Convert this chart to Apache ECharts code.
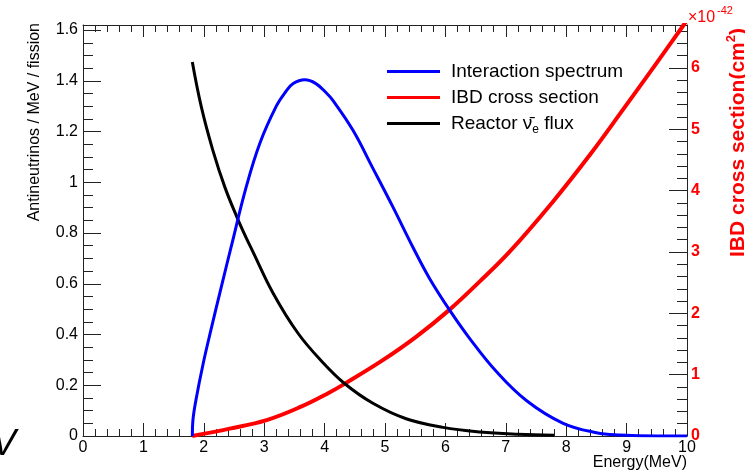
<!DOCTYPE html>
<html>
<head>
<meta charset="utf-8">
<script src="https://cdn.jsdelivr.net/npm/echarts@6/dist/echarts.min.js"></script>
<style>
html, body { margin: 0; padding: 0; background: #fff; }
#chart { width: 745px; height: 472px; }
</style>
</head>
<body>
<div id="chart"></div>
<script>
// values, energy in MeV
const spectrumE = [1.81, 1.82, 1.87, 1.99, 2.13, 2.29, 2.46, 2.70, 2.93, 3.20, 3.35, 3.48, 3.67, 3.85, 4.03, 4.14, 4.47, 4.80, 5.13, 5.46, 5.74, 6.07, 6.40, 6.84, 7.34, 7.95, 8.50, 8.89, 9.50, 10.0]
const spectrumV = [0, 0.063, 0.142, 0.286, 0.43, 0.588, 0.752, 0.98, 1.155, 1.30, 1.355, 1.389, 1.404, 1.39, 1.352, 1.322, 1.205, 1.055, 0.903, 0.745, 0.62, 0.496, 0.385, 0.255, 0.14, 0.05, 0.013, 0.004, 0, 0]

// IBD cross section, units of 1e-42 cm^2
const xsecE = [1.81, 2.43, 3.04, 3.59, 4.08, 4.33, 4.97, 5.52, 6.07, 6.57, 7.06, 7.78, 8.39, 8.94, 9.49, 9.93, 10.0]
const xsecV = [0, 0.12, 0.26, 0.47, 0.71, 0.85, 1.24, 1.62, 2.06, 2.52, 3.0, 3.82, 4.58, 5.32, 6.07, 6.68, 6.78]

const fluxE = [1.81, 1.96, 2.15, 2.35, 2.55, 2.70, 2.80, 3.15, 3.56, 3.97, 4.33, 4.80, 5.35, 5.96, 6.57, 7.20, 7.80]
const fluxV = [1.474, 1.296, 1.126, 0.98, 0.862, 0.782, 0.733, 0.562, 0.405, 0.29, 0.207, 0.129, 0.068, 0.034, 0.016, 0.007, 0.003]

const seriesNames = ['Interaction spectrum', 'IBD cross section', 'Reactor \u03bd\u0304e flux']
const seriesColors = ['#0000ff', '#ff0000', '#000000']

const FONT = '"Liberation Sans", Arial, Helvetica, sans-serif'
const AXIS_COLOR = '#222'

const pairs = (xs, ys) => xs.map((x, i) => [x, ys[i]])

const tickStyle = { color: AXIS_COLOR, width: 1 }

const chart = echarts.init(document.getElementById('chart'), null, { renderer: 'canvas' })

chart.setOption({
  animation: false,
  backgroundColor: '#fff',
  grid: { left: 83, right: 58, top: 25, bottom: 36, containLabel: false, outerBoundsMode: 'none' },
  legend: {
    orient: 'vertical',
    left: 382,
    top: 54,
    icon: 'rect',
    itemWidth: 53,
    itemHeight: 3,
    itemGap: 1,
    selectedMode: false,
    data: seriesNames,
    formatter: name => name === seriesNames[2] ? '{n|Reactor \u03bd\u0304}{sub|e}{n| flux}' : name,
    textStyle: {
      fontSize: 19,
      fontFamily: FONT,
      color: '#000',
      lineHeight: 25,
      padding: [0, 0, 0, 6],
      rich: {
        n: { fontSize: 19, fontFamily: FONT, color: '#000', lineHeight: 25 },
        sub: { fontSize: 12, fontFamily: FONT, color: '#000', lineHeight: 6, verticalAlign: 'bottom' }
      }
    }
  },
  xAxis: [
    {
      type: 'value',
      min: 0,
      max: 10,
      interval: 1,
      position: 'bottom',
      axisLine: { show: true, onZero: false, lineStyle: tickStyle },
      axisTick: { show: true, inside: true, length: 13, lineStyle: tickStyle },
      minorTick: { show: true, splitNumber: 5, length: 7, lineStyle: tickStyle },
      splitLine: { show: false },
      axisLabel: { fontSize: 16, fontFamily: FONT, color: '#000', margin: 4 }
    },
    {
      type: 'value',
      min: 0,
      max: 10,
      interval: 1,
      position: 'top',
      axisLine: { show: true, onZero: false, lineStyle: tickStyle },
      axisTick: { show: true, inside: true, length: 12, lineStyle: tickStyle },
      minorTick: { show: true, splitNumber: 5, length: 7, lineStyle: tickStyle },
      splitLine: { show: false },
      axisLabel: { show: false }
    }
  ],
  yAxis: [
    {
      type: 'value',
      min: 0,
      max: 1.62,
      interval: 0.2,
      position: 'left',
      axisLine: { show: true, onZero: false, lineStyle: tickStyle },
      axisTick: { show: true, inside: true, length: 18, lineStyle: tickStyle },
      minorTick: { show: true, splitNumber: 4, length: 10, lineStyle: tickStyle },
      splitLine: { show: false },
      axisLabel: { fontSize: 16, fontFamily: FONT, color: '#000', margin: 5, showMaxLabel: false }
    },
    {
      type: 'value',
      min: 0,
      max: 6.7,
      interval: 1,
      position: 'right',
      axisLine: { show: true, onZero: false, lineStyle: tickStyle },
      axisTick: { show: true, inside: true, length: 18, lineStyle: tickStyle },
      minorTick: { show: true, splitNumber: 5, length: 10, lineStyle: tickStyle },
      splitLine: { show: false },
      axisLabel: { fontSize: 16, fontFamily: FONT, fontWeight: 'bold', color: '#ff0000', margin: 4, showMaxLabel: false }
    }
  ],
  series: [
    {
      name: seriesNames[0],
      type: 'line',
      xAxisIndex: 0,
      yAxisIndex: 0,
      data: pairs(spectrumE, spectrumV),
      showSymbol: false,
      symbol: 'none',
      smooth: 0.4,
      lineStyle: { color: seriesColors[0], width: 3 },
      itemStyle: { color: seriesColors[0] },
      z: 4
    },
    {
      name: seriesNames[1],
      type: 'line',
      xAxisIndex: 0,
      yAxisIndex: 1,
      data: pairs(xsecE, xsecV),
      showSymbol: false,
      symbol: 'none',
      smooth: 0.4,
      lineStyle: { color: seriesColors[1], width: 4 },
      itemStyle: { color: seriesColors[1] },
      z: 3
    },
    {
      name: seriesNames[2],
      type: 'line',
      xAxisIndex: 0,
      yAxisIndex: 0,
      data: pairs(fluxE, fluxV),
      showSymbol: false,
      symbol: 'none',
      smooth: 0.4,
      lineStyle: { color: seriesColors[2], width: 3 },
      itemStyle: { color: seriesColors[2] },
      z: 3
    }
  ],
  graphic: [
    {
      type: 'text',
      x: 35,
      y: 23,
      rotation: Math.PI / 2,
      style: {
        text: 'Antineutrinos / MeV / fission',
        fontSize: 16,
        fontFamily: FONT,
        fill: '#000',
        align: 'right',
        verticalAlign: 'middle'
      }
    },
    {
      type: 'text',
      x: 687,
      y: 463,
      style: {
        text: 'Energy(MeV)',
        fontSize: 16,
        fontFamily: FONT,
        fill: '#000',
        align: 'right',
        verticalAlign: 'middle'
      }
    },
    {
      type: 'text',
      x: 737,
      y: 28,
      rotation: Math.PI / 2,
      style: {
        text: '{b|IBD cross section(cm}{s|2}{b|)}',
        align: 'right',
        verticalAlign: 'middle',
        rich: {
          b: { fontSize: 21, fontWeight: 'bold', fontFamily: FONT, fill: '#ff0000', lineHeight: 24, verticalAlign: 'bottom' },
          s: { fontSize: 13, fontWeight: 'bold', fontFamily: FONT, fill: '#ff0000', lineHeight: 13, verticalAlign: 'top' }
        }
      }
    },
    {
      type: 'text',
      x: 688,
      y: 18,
      style: { text: '\u00d710', fontSize: 16, fontFamily: FONT, fill: '#ff0000', verticalAlign: 'middle' }
    },
    {
      type: 'text',
      x: 717,
      y: 11,
      style: { text: '-42', fontSize: 11, fontFamily: FONT, fill: '#ff0000', verticalAlign: 'middle' }
    },
    {
      type: 'text',
      x: -8,
      y: 445,
      style: { text: 'V', fontSize: 36, fontStyle: 'italic', fontFamily: FONT, fill: '#000', verticalAlign: 'middle' }
    }
  ]
})
</script>
</body>
</html>
